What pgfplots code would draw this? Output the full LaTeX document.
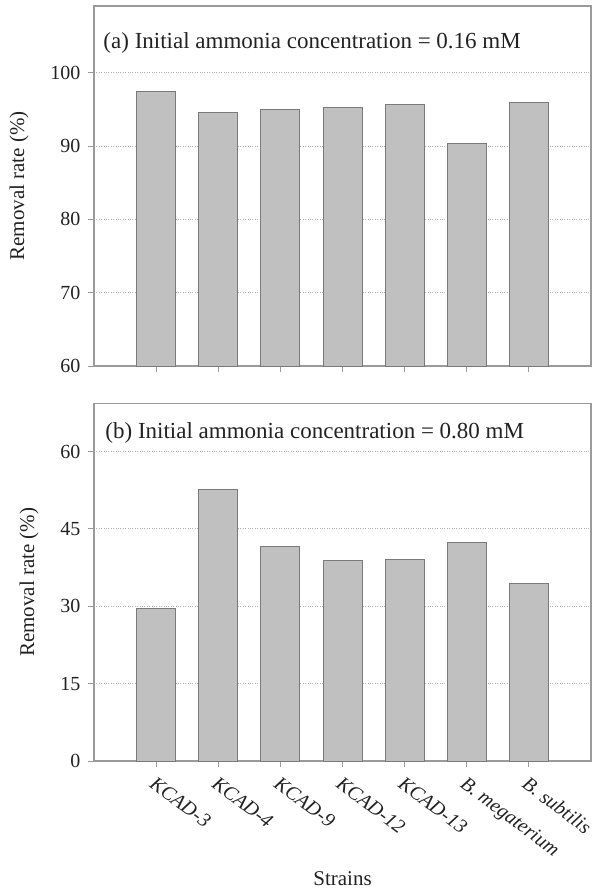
\documentclass[border=0pt]{standalone}
\usepackage{pgfplots}
\pgfplotsset{compat=1.18}
\usepackage{fontspec}
\setmainfont{Liberation Serif}
\definecolor{barfill}{HTML}{C0C0C0}
\definecolor{baredge}{HTML}{7A7A7A}
\definecolor{axgray}{HTML}{9A9A9A}
\definecolor{txt}{HTML}{222222}
\pgfplotsset{
  panel/.style={
    scale only axis, width=497pt,
    xmin=-1, xmax=7,
    xtick={0,1,2,3,4,5,6},
    tick align=outside, xtick pos=bottom, ytick pos=left,
    major tick length=6pt,
    axis line style={axgray, line width=1.2pt},
    every tick/.style={axgray, line width=0.8pt},
    ymajorgrids, grid style={dotted, gray!60, line width=0.9pt},
    /pgf/number format/assume math mode=true,
    tick label style={font=\fontsize{20}{24}\selectfont, text=txt},
    yticklabel style={xshift=-4pt},
    label style={font=\fontsize{21}{25}\selectfont, text=txt},
    ylabel={Removal rate (\%)},
    ylabel shift=15pt,
    ybar, bar width=39pt,
    clip=true,
  }
}
\begin{document}
\begin{tikzpicture}
\useasboundingbox (-94pt,6pt) rectangle (504pt,-885pt);
\begin{axis}[panel, name=top, at={(0pt,0pt)}, anchor=north west,
  height=360pt, ymin=60, ymax=109.1, ytick={60,70,80,90,100},
  xticklabels={}]
\addplot[fill=barfill, draw=baredge, line width=0.9pt] coordinates {(0,97.5) (1,94.6) (2,95.0) (3,95.3) (4,95.7) (5,90.4) (6,96.0)};
\node[anchor=west, font=\fontsize{23}{27}\selectfont, text=txt] at (rel axis cs:0.012,0.898) {(a) Initial ammonia concentration = 0.16 mM};
\end{axis}
\begin{axis}[panel, at={(0pt,-397.5pt)}, anchor=north west,
  height=357.5pt, ymin=0, ymax=69.3, ytick={0,15,30,45,60},
  xticklabels={KCAD-3,KCAD-4,KCAD-9,KCAD-12,KCAD-13,B. megaterium,B. subtilis},
  xticklabel style={rotate=-37, anchor=north west, font=\itshape\fontsize{20}{24}\selectfont, xshift=2pt, yshift=-3pt},
  xlabel={Strains},
  xlabel style={at={(rel axis cs:0.5,0)}, anchor=center, yshift=-118pt}]
\addplot[fill=barfill, draw=baredge, line width=0.9pt] coordinates {(0,29.6) (1,52.6) (2,41.5) (3,38.9) (4,39.1) (5,42.4) (6,34.4)};
\node[anchor=west, font=\fontsize{23}{27}\selectfont, text=txt] at (rel axis cs:0.016,0.917) {(b) Initial ammonia concentration = 0.80 mM};
\end{axis}
\end{tikzpicture}
\end{document}
